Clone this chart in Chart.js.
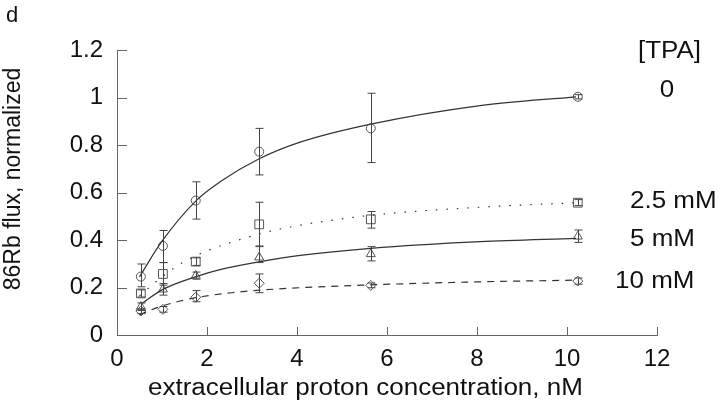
<!DOCTYPE html>
<html>
<head>
<meta charset="utf-8">
<script src="https://cdn.jsdelivr.net/npm/chart.js@4.4.0/dist/chart.umd.min.js"></script>
<style>
  html, body { margin: 0; padding: 0; background: #fff; }
  #wrap { width: 720px; height: 403px; }
</style>
</head>
<body>
<div id="wrap"><canvas id="fig" width="720" height="403"></canvas></div>
<script>
// extracellular proton concentration (nM) of the measured points
const protonNM = [0.53, 1.02, 1.75, 3.16, 5.64, 10.24];

// 86Rb flux, normalized, one list per [TPA]; hi/lo are the error bar ends
const flux0 = [0.246, 0.375, 0.566, 0.772, 0.87, 1.003];
const flux0Hi = [0.299, 0.44, 0.645, 0.87, 1.018, 1.012];
const flux0Lo = [0.203, 0.305, 0.488, 0.674, 0.726, 0.994];

const flux25 = [0.175, 0.257, 0.309, 0.466, 0.487, 0.557];
const flux25Hi = [0.19, 0.305, 0.325, 0.559, 0.52, 0.57];
const flux25Lo = [0.16, 0.21, 0.293, 0.372, 0.45, 0.545];

const flux5 = [0.119, 0.192, 0.25, 0.327, 0.341, 0.415];
const flux5Hi = [0.135, 0.217, 0.265, 0.375, 0.372, 0.442];
const flux5Lo = [0.103, 0.168, 0.235, 0.305, 0.312, 0.39];

const flux10 = [0.101, 0.108, 0.159, 0.218, 0.209, 0.227];
const flux10Hi = [0.11, 0.12, 0.187, 0.257, 0.219, 0.24];
const flux10Lo = [0.09, 0.096, 0.14, 0.178, 0.199, 0.214];

// fitted curves, points
const fit0X = [0.5, 1.0, 1.76, 2.29, 3.16, 4.07, 5.64, 8.07, 10.2];
const fit0Y = [0.245, 0.395, 0.566, 0.645, 0.742, 0.812, 0.888, 0.966, 1.003];

const fit25X = [0.5, 0.81, 1.33, 1.88, 2.5, 3.47, 4.0, 4.73, 5.84, 8.07, 10.2];
const fit25Y = [0.165, 0.215, 0.29, 0.345, 0.388, 0.44, 0.46, 0.482, 0.508, 0.538, 0.557];

const fit5X = [0.53, 1.02, 1.76, 2.29, 3.16, 4.07, 5.64, 8.07, 10.2];
const fit5Y = [0.13, 0.192, 0.246, 0.275, 0.308, 0.335, 0.365, 0.393, 0.407];

const fit10X = [0.5, 0.89, 1.4, 1.9, 2.55, 3.5, 5.64, 8.07, 10.2];
const fit10Y = [0.085, 0.115, 0.143, 0.162, 0.178, 0.193, 0.211, 0.224, 0.231];

// tick labels
const xTicks = [0, 2, 4, 6, 8, 10, 12];
const yTicks = [0, 0.2, 0.4, 0.6, 0.8, 1, 1.2];

const FONT = "'Liberation Sans', Arial, Helvetica, sans-serif";

function pts(xs, ys) {
  return xs.map((x, i) => ({ x: x, y: ys[i] }));
}

function curve(xs, ys, dash) {
  return {
    data: pts(xs, ys),
    showLine: true,
    pointRadius: 0,
    borderColor: "#333",
    borderWidth: 1.2,
    borderDash: dash,
    cubicInterpolationMode: "monotone",
    fill: false
  };
}

function marks(ys, style, r) {
  return {
    data: pts(protonNM, ys),
    showLine: false,
    pointStyle: style,
    pointRadius: r,
    borderColor: "#555",
    borderWidth: 1,
    backgroundColor: "rgba(0,0,0,0)"
  };
}

const bars = [
  { hi: flux0Hi, lo: flux0Lo },
  { hi: flux25Hi, lo: flux25Lo },
  { hi: flux5Hi, lo: flux5Lo },
  { hi: flux10Hi, lo: flux10Lo }
];

// error bars through the chart scales
const errorBars = {
  id: "errorBars",
  afterDatasetsDraw(chart) {
    const ctx = chart.ctx;
    const xs = chart.scales.x;
    const ys = chart.scales.y;
    ctx.save();
    ctx.strokeStyle = "#444";
    ctx.lineWidth = 1;
    bars.forEach(b => {
      protonNM.forEach((v, i) => {
        const px = Math.round(xs.getPixelForValue(v)) + 0.5;
        const top = ys.getPixelForValue(b.hi[i]);
        const bot = ys.getPixelForValue(b.lo[i]);
        ctx.beginPath();
        ctx.moveTo(px, top);
        ctx.lineTo(px, bot);
        ctx.moveTo(px - 4, top);
        ctx.lineTo(px + 4, top);
        ctx.moveTo(px - 4, bot);
        ctx.lineTo(px + 4, bot);
        ctx.stroke();
      });
    });
    ctx.restore();
  }
};

// inward tick marks, panel letter, titles and the [TPA] labels
const decor = {
  id: "decor",
  afterDraw(chart) {
    const ctx = chart.ctx;
    const xs = chart.scales.x;
    const ys = chart.scales.y;
    const area = chart.chartArea;
    ctx.save();
    ctx.strokeStyle = "#666";
    ctx.lineWidth = 1;
    ctx.beginPath();
    yTicks.forEach(t => {
      const py = Math.round(ys.getPixelForValue(t)) + 0.5;
      ctx.moveTo(area.left, py);
      ctx.lineTo(area.left + 10, py);
    });
    xTicks.forEach(t => {
      const px = Math.round(xs.getPixelForValue(t)) + 0.5;
      ctx.moveTo(px, area.bottom);
      ctx.lineTo(px, area.bottom - 8);
    });
    ctx.stroke();

    ctx.fillStyle = "#111";
    ctx.textBaseline = "alphabetic";

    ctx.font = "22px " + FONT;
    ctx.textAlign = "left";
    ctx.fillText("d", 6, 22);

    // y title
    ctx.save();
    ctx.translate(20, 179);
    ctx.rotate(-Math.PI / 2);
    ctx.textAlign = "center";
    ctx.font = "23px " + FONT;
    ctx.fillText("86Rb flux, normalized", 0, 0);
    ctx.restore();

    function wide(text, x, y, align) {
      ctx.save();
      ctx.translate(x, y);
      ctx.scale(1.13, 1);
      ctx.textAlign = align;
      ctx.font = "23px " + FONT;
      ctx.fillText(text, 0, 0);
      ctx.restore();
    }
    wide("extracellular proton concentration, nM", 148, 395, "left");
    wide("[TPA]", 638, 58, "left");
    wide("0", 667, 97, "center");
    wide("2.5 mM", 630, 208, "left");
    wide("5 mM", 630, 246, "left");
    wide("10 mM", 615, 288, "left");
    ctx.restore();
  }
};

new Chart(document.getElementById("fig"), {
  type: "scatter",
  data: {
    datasets: [
      curve(fit0X, fit0Y, []),
      curve(fit25X, fit25Y, [1.5, 9]),
      curve(fit5X, fit5Y, []),
      curve(fit10X, fit10Y, [7, 6]),
      marks(flux0, "circle", 4.5),
      marks(flux25, "rect", 6.2),
      marks(flux5, "triangle", 5.2),
      marks(flux10, "rectRot", 5)
    ]
  },
  options: {
    responsive: false,
    animation: false,
    layout: { padding: { left: 0, right: 63, top: 50, bottom: 0 } },
    plugins: { legend: { display: false }, tooltip: { enabled: false } },
    scales: {
      x: {
        type: "linear",
        min: 0,
        max: 12,
        afterBuildTicks(s) { s.ticks = xTicks.map(v => ({ value: v })); },
        ticks: { color: "#111", font: { family: FONT, size: 24 }, padding: 10, maxRotation: 0 },
        grid: { display: false, drawTicks: false },
        border: { display: true, color: "#666" },
        afterFit(s) { s.height = 68; }
      },
      y: {
        type: "linear",
        min: 0,
        max: 1.2,
        afterBuildTicks(s) { s.ticks = yTicks.map(v => ({ value: v })); },
        ticks: {
          color: "#111",
          font: { family: FONT, size: 24 },
          padding: 14,
          callback: v => String(Math.round(v * 10) / 10)
        },
        grid: { display: false, drawTicks: false },
        border: { display: true, color: "#666" },
        afterFit(s) { s.width = 117; }
      }
    }
  },
  plugins: [errorBars, decor]
});
</script>
</body>
</html>
